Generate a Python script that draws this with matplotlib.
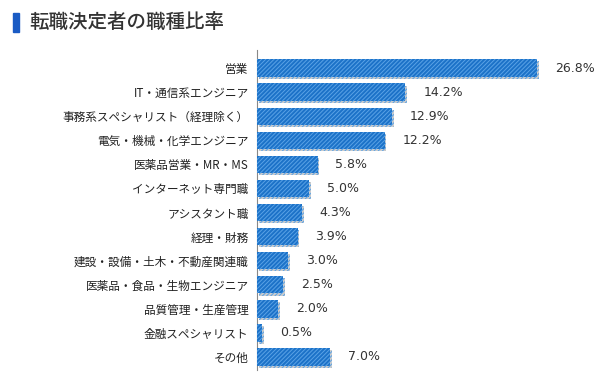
import matplotlib
matplotlib.use("Agg")
import matplotlib.pyplot as plt
import matplotlib.patheffects as pe
from matplotlib.patches import Rectangle

plt.rcParams['font.family'] = ['Noto Sans CJK JP', 'DejaVu Sans']
plt.rcParams['hatch.linewidth'] = 0.7

title = "転職決定者の職種比率"
jobs = ["営業", "IT・通信系エンジニア", "事務系スペシャリスト（経理除く）",
        "電気・機械・化学エンジニア", "医薬品営業・MR・MS", "インターネット専門職",
        "アシスタント職", "経理・財務", "建設・設備・土木・不動産関連職",
        "医薬品・食品・生物エンジニア", "品質管理・生産管理", "金融スペシャリスト", "その他"]
shares = [26.8, 14.2, 12.9, 12.2, 5.8, 5.0, 4.3, 3.9, 3.0, 2.5, 2.0, 0.5, 7.0]

fig = plt.figure(figsize=(6.02, 3.87), dpi=100)
ax = fig.add_axes([257 / 602, 17 / 387, 345 / 602, 320 / 387])

ypos = list(range(len(jobs)))
bars = ax.barh(ypos, shares, height=0.72, color='#1c72c8', edgecolor='#5aa2e6',
               hatch='////////', linewidth=0, zorder=3)
for b in bars:
    b.set_path_effects([pe.SimplePatchShadow(offset=(1.2, -1.5), shadow_rgbFace='#aaaaaa', alpha=0.6),
                        pe.Normal()])

for y, v in zip(ypos, shares):
    ax.text(v + 1.7, y, f"{v:.1f}%", va='center', ha='left', fontsize=9,
            color='#333333', family=['DejaVu Sans'])

ax.set_xlim(0, 33.0)
ax.set_ylim(12.54, -0.75)
ax.set_yticks(ypos)
ax.set_yticklabels(jobs, fontsize=8.4, color='#222222')
ax.tick_params(axis='y', length=0, pad=6)
ax.set_xticks([])
for s in ['top', 'right', 'bottom']:
    ax.spines[s].set_visible(False)
ax.spines['left'].set_color('#888888')
ax.spines['left'].set_linewidth(0.8)

fig.patches.append(Rectangle((13 / 602, 1 - 32 / 387), 6 / 602, 19 / 387,
                             transform=fig.transFigure, color='#1a5bc4'))
fig.text(29 / 602, 1 - 22 / 387, title, fontsize=14, fontweight='medium',
         color='#333333', va='center', ha='left')

fig.savefig("out.png", dpi=100)
